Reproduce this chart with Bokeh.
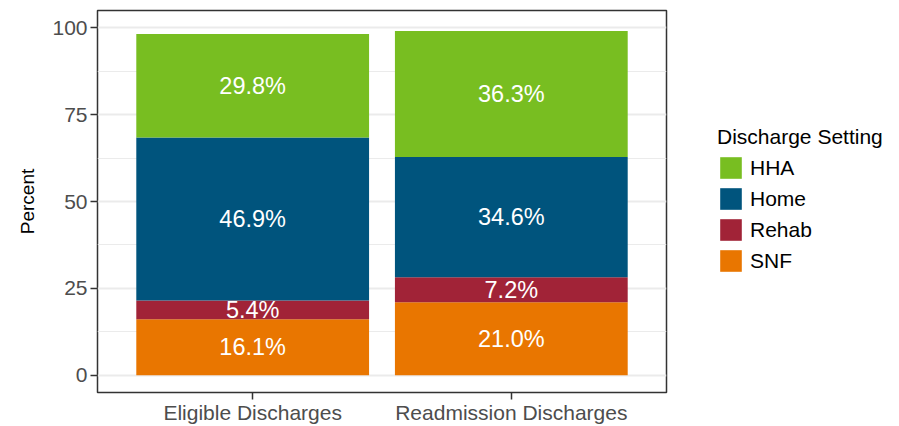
from bokeh.plotting import figure
from bokeh.layouts import row
from bokeh.models import (ColumnDataSource, FactorRange, Range1d, Legend, LegendItem,
                          FixedTicker)
from bokeh.core.properties import value
from bokeh.embed import file_html
from bokeh.resources import INLINE

categories = ["Eligible Discharges", "Readmission Discharges"]
settings = ["SNF", "Rehab", "Home", "HHA"]
snf = [16.1, 21.0]
rehab = [5.4, 7.2]
home = [46.9, 34.6]
hha = [29.8, 36.3]
colors = ["#E97600", "#A12337", "#00547D", "#78BE21"]
y_ticks = [0, 25, 50, 75, 100]
y_minor = [12.5, 37.5, 62.5, 87.5]

FONT = "Liberation Sans"

data = {"cat": categories, "SNF": snf, "Rehab": rehab, "Home": home, "HHA": hha}
source = ColumnDataSource(data)

p = figure(x_range=FactorRange(*categories, range_padding=0.1, range_padding_units="absolute"),
           y_range=Range1d(-5, 105),
           width=700, height=426, output_backend="svg", toolbar_location=None,
           min_border_left=97, min_border_top=10, min_border_right=34, min_border_bottom=32)

renderers = p.vbar_stack(settings, x="cat", width=0.9, color=colors, source=source,
                         line_color=None)

# labels in the middle of each segment
lx, ly, lt = [], [], []
series = [snf, rehab, home, hha]
for i, c in enumerate(categories):
    base = 0.0
    for s in series:
        v = s[i]
        lx.append(c)
        ly.append(base + v / 2)
        lt.append(f"{v:.1f}%")
        base += v
p.text(x=lx, y=ly, text=lt, text_color="white", text_align="center",
       text_baseline="middle", text_font=value(FONT), text_font_size="23.5px")

# styling (theme_bw-like)
p.outline_line_color = "#333333"
p.outline_line_width = 1.5
p.background_fill_color = "white"
p.border_fill_color = "white"
p.xgrid.grid_line_color = None
p.ygrid.grid_line_color = "#EBEBEB"
p.ygrid.grid_line_width = 2
p.ygrid.minor_grid_line_color = "#EBEBEB"
p.ygrid.minor_grid_line_width = 1

p.yaxis.ticker = FixedTicker(ticks=y_ticks, minor_ticks=y_minor)
for ax in (p.xaxis, p.yaxis):
    ax.axis_line_color = None
    ax.major_tick_line_color = "#333333"
    ax.major_tick_line_width = 1.5
    ax.major_tick_in = 0
    ax.major_tick_out = 7
    ax.minor_tick_line_color = None
    ax.major_label_text_color = "#4D4D4D"
    ax.major_label_text_font = FONT
    ax.major_label_text_font_size = "21px"
p.xaxis.major_label_standoff = 1
p.yaxis.major_label_standoff = 3
p.yaxis.axis_label = "Percent"
p.yaxis.axis_label_text_font = FONT
p.yaxis.axis_label_text_font_size = "19px"
p.yaxis.axis_label_text_font_style = "normal"
p.yaxis.axis_label_text_color = "black"
p.yaxis.axis_label_standoff = 11

# legend in its own (axis-less) figure to the right; the bars there have zero
# width and lie outside the visible range, so only the legend keys show
lg = figure(width=199, height=426, output_backend="svg", toolbar_location=None,
            x_range=FactorRange(*categories), y_range=Range1d(1000, 1001),
            x_axis_type=None, y_axis_type=None,
            min_border_left=0, min_border_right=0, min_border_top=0, min_border_bottom=0)
lg.outline_line_color = None
lg.grid.visible = False
lg_renderers = lg.vbar_stack(settings, x="cat", width=0, color=colors, source=source,
                             line_color=None)

items = [LegendItem(label=settings[i], renderers=[lg_renderers[i]]) for i in [3, 2, 1, 0]]
legend = Legend(items=items, title="Discharge Setting", location=(17, 118))
legend.title_text_font = FONT
legend.title_text_font_size = "21px"
legend.title_text_font_style = "normal"
legend.title_text_color = "black"
legend.title_standoff = 5
legend.label_text_font = FONT
legend.label_text_font_size = "21px"
legend.label_text_color = "black"
legend.glyph_width = 27
legend.glyph_height = 27
legend.label_height = 27
legend.label_standoff = 6
legend.spacing = 4
legend.padding = 0
legend.margin = 0
legend.border_line_color = None
legend.background_fill_alpha = 0
lg.add_layout(legend, "center")

layout = row(p, lg, spacing=0)
open("out.html", "w").write(file_html(layout, INLINE))
